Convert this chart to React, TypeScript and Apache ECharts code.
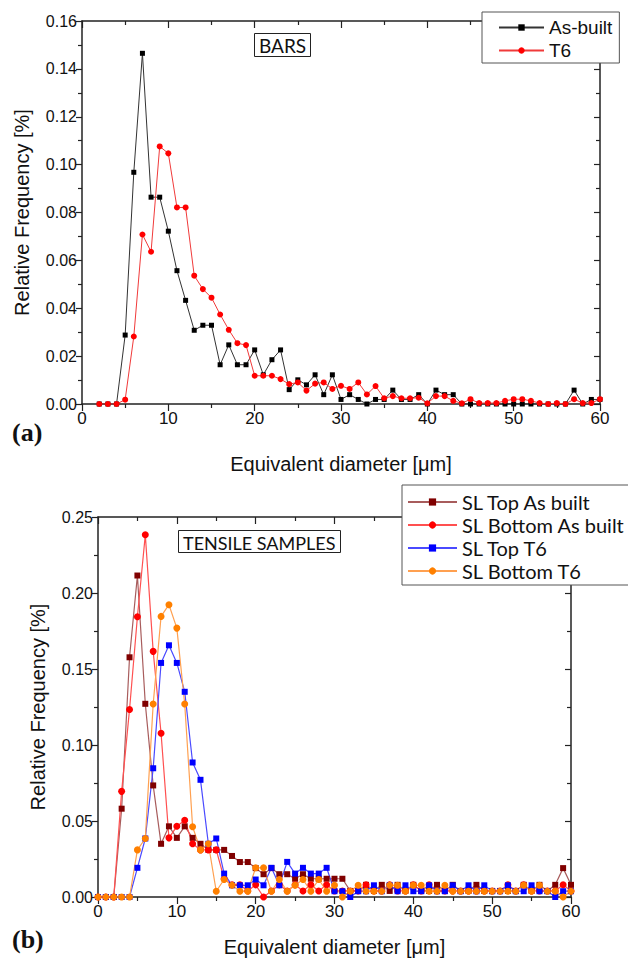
import { useEffect, useRef } from "react";
import * as echarts from "echarts";

// ---- (a) BARS ----
const barsDiameter = [2,3,4,5,6,7,8,9,10,11,12,13,14,15,16,17,18,19,20,21,22,23,24,25,26,27,28,29,30,31,32,33,34,35,36,37,38,39,40,41,42,43,44,45,46,47,48,49,50,51,52,53,54,55,56,57,58,59,60];
const barsAsBuilt = [0,0,0,0.0288,0.0968,0.1465,0.0864,0.0864,0.0722,0.0557,0.0433,0.0308,0.0329,0.0329,0.0164,0.0247,0.0164,0.0164,0.0226,0.0122,0.0185,0.0226,0.006,0.0101,0.008,0.0122,0.0039,0.0122,0.0019,0.0039,0.0019,0,0.0019,0.0019,0.0058,0.0019,0.0019,0.0039,0,0.0058,0.0039,0.0039,0,0,0,0,0,0,0,0,0,0,0,0,0,0.0058,0,0.0019,0.0019];
const barsT6 = [0,0,0,0.0018,0.0282,0.0708,0.0636,0.1076,0.1047,0.0821,0.0821,0.0536,0.048,0.0444,0.0374,0.031,0.0254,0.0246,0.0118,0.0118,0.0118,0.0104,0.0083,0.009,0.0056,0.0085,0.009,0.0063,0.0076,0.0063,0.009,0.004,0.0075,0.0024,0.0033,0.0024,0.0024,0.0026,0.0003,0.0033,0.0033,0.0013,0.0003,0.002,0.0004,0.0004,0.0004,0.0013,0.002,0.002,0.0013,0.0004,0,0.0004,0,0.002,0.0004,0.0004,0.002];

// ---- (b) TENSILE SAMPLES ----
const tensileDiameter = [0,1,2,3,4,5,6,7,8,9,10,11,12,13,14,15,16,17,18,19,20,21,22,23,24,25,26,27,28,29,30,31,32,33,34,35,36,37,38,39,40,41,42,43,44,45,46,47,48,49,50,51,52,53,54,55,56,57,58,59,60];
const slTopAsBuilt = [0,0,0,0.0581,0.1577,0.2115,0.1271,0.0734,0.035,0.0465,0.0389,0.0465,0.0389,0.035,0.031,0.031,0.031,0.027,0.023,0.023,0.019,0.015,0.019,0.015,0.015,0.012,0.015,0.012,0.012,0.012,0.012,0.012,0.004,0.004,0.008,0.004,0.008,0.004,0.008,0.004,0.008,0.004,0.004,0.008,0.004,0.008,0.004,0.004,0.008,0.004,0.004,0.004,0.004,0.004,0.008,0.004,0.008,0.004,0.008,0.019,0.008];
const slBottomAsBuilt = [0,0,0,0.0695,0.1234,0.1844,0.2383,0.1616,0.1077,0.0389,0.0465,0.0505,0.035,0.031,0.031,0.031,0.012,0.008,0.008,0.004,0.008,0,0.004,0.008,0.004,0.008,0.004,0.008,0.004,0.008,0.004,0.004,0.004,0.004,0.008,0.004,0.004,0.008,0.004,0.004,0.008,0.004,0.008,0.004,0.004,0.004,0.004,0.004,0.004,0.004,0.004,0.004,0.008,0.004,0.008,0.004,0.004,0.004,0.004,0.008,0.004];
const slTopT6 = [0,0,0,0,0,0.0192,0.0385,0.0847,0.154,0.1656,0.154,0.135,0.0885,0.0771,0.035,0.0385,0.0154,0.0077,0.0077,0.0077,0.0115,0.0077,0.0192,0.0077,0.0231,0.0154,0.0192,0.0154,0.0154,0.0192,0.0038,0.0038,0,0.0038,0.0038,0.0077,0.0038,0.0077,0.0038,0.0077,0.0038,0.0038,0.0077,0.0038,0.0038,0.0077,0.0038,0.0077,0.0038,0.0077,0.0038,0.0038,0.0077,0.0038,0.0038,0.0077,0.0038,0.0038,0,0.0038,0.0038];
const slBottomT6 = [0,0,0,0,0,0.031,0.0385,0.127,0.1846,0.1923,0.1769,0.127,0.0462,0.031,0.035,0.0038,0.0115,0.0077,0.0038,0.0038,0.0192,0.0192,0.0038,0.0115,0.0038,0.0077,0.0115,0.0038,0.0115,0.0038,0.0077,0,0.0038,0.0077,0.0038,0.0038,0.0038,0.0077,0.0077,0.0038,0.0077,0.0077,0.0038,0.0038,0.0077,0.0038,0.0038,0.0038,0.0038,0.0038,0.0038,0.0038,0.0038,0.0038,0.0077,0.0038,0.0077,0.0038,0.0038,0,0.0038];

const AXIS_COLOR = "#222";
const SANS = "Liberation Sans";
const CAL = "Lato";

const pairs = (xs: number[], ys: number[]) => xs.map((x, i) => [x, ys[i]]);

function xAxes(grid: number, nameGap: number) {
  const common = {
    gridIndex: grid,
    type: "value",
    min: 0,
    max: 60,
    interval: 10,
    splitLine: { show: false },
    axisLine: { show: true, onZero: false, lineStyle: { color: AXIS_COLOR, width: 1.5 } },
    minorTick: { show: true, splitNumber: 2, length: 4, lineStyle: { color: AXIS_COLOR, width: 1.2 } },
    minorSplitLine: { show: false },
  };
  return [
    {
      ...common,
      position: "bottom",
      axisTick: { show: true, inside: false, length: 7, lineStyle: { color: AXIS_COLOR, width: 1.2 } },
      axisLabel: { show: true, fontFamily: SANS, fontSize: 17, color: "#111", margin: 6 },
      name: "Equivalent diameter [\u03bcm]",
      nameLocation: "middle",
      nameGap,
      nameTextStyle: { fontFamily: SANS, fontSize: 20, color: "#111" },
    },
    {
      ...common,
      position: "top",
      axisTick: { show: true, inside: true, length: 7, lineStyle: { color: AXIS_COLOR, width: 1.2 } },
      axisLabel: { show: false },
    },
  ];
}

function yAxes(grid: number, max: number, interval: number) {
  const common = {
    gridIndex: grid,
    type: "value",
    min: 0,
    max,
    interval,
    splitLine: { show: false },
    axisLine: { show: true, onZero: false, lineStyle: { color: AXIS_COLOR, width: 1.5 } },
    minorTick: { show: true, splitNumber: 2, length: 4, lineStyle: { color: AXIS_COLOR, width: 1.2 } },
    minorSplitLine: { show: false },
  };
  return [
    {
      ...common,
      position: "left",
      axisTick: { show: true, inside: false, length: 6, lineStyle: { color: AXIS_COLOR, width: 1.2 } },
      axisLabel: {
        show: true,
        fontFamily: SANS,
        fontSize: 16,
        color: "#111",
        margin: 5,
        formatter: (v: number) => v.toFixed(2),
      },
      name: "Relative Frequency [%]",
      nameLocation: "middle",
      nameRotate: 90,
      nameGap: 50,
      nameTextStyle: { fontFamily: SANS, fontSize: 20, color: "#111" },
    },
    {
      ...common,
      position: "right",
      axisTick: { show: true, inside: true, length: 6, lineStyle: { color: AXIS_COLOR, width: 1.2 } },
      axisLabel: { show: false },
    },
  ];
}

export default function App() {
  const ref = useRef<HTMLDivElement>(null);
  useEffect(() => {
    if (!ref.current) return;
    const chart = echarts.init(ref.current, undefined, { renderer: "svg" });
    const option: any = {
      animation: false,
      backgroundColor: "#fff",
      grid: [
        { left: 82, top: 21, width: 518, height: 383, outerBoundsMode: "none" },
        { left: 98, top: 517, width: 473, height: 380, outerBoundsMode: "none" },
      ],
      xAxis: [...xAxes(0, 50), ...xAxes(1, 40)],
      yAxis: [...yAxes(0, 0.16, 0.02), ...yAxes(1, 0.25, 0.05)],
      title: [
        {
          text: "BARS",
          left: 254,
          top: 33,
          padding: [3, 5, 2, 5],
          borderWidth: 1,
          borderColor: "#222",
          textStyle: { fontFamily: CAL, fontSize: 19, fontWeight: "normal", color: "#111", lineHeight: 19 },
        },
        {
          text: "TENSILE SAMPLES",
          left: 178,
          top: 530,
          padding: [3, 5, 1, 5],
          borderWidth: 1,
          borderColor: "#222",
          textStyle: { fontFamily: CAL, fontSize: 18, fontWeight: "normal", color: "#111", lineHeight: 19 },
        },
        {
          text: "(a)",
          left: 12,
          top: 419,
          padding: 0,
          textStyle: { fontFamily: "Liberation Serif", fontSize: 26, fontWeight: "bold", color: "#111" },
        },
        {
          text: "(b)",
          left: 12,
          top: 926,
          padding: 0,
          textStyle: { fontFamily: "Liberation Serif", fontSize: 26, fontWeight: "bold", color: "#111" },
        },
      ],
      legend: [
        {
          data: ["As-built", "T6"],
          orient: "vertical",
          left: 482,
          top: 12,
          itemWidth: 45,
          itemHeight: 8,
          itemGap: 4,
          padding: [6, 7, 3, 16],
          backgroundColor: "#fff",
          borderColor: "#555",
          borderWidth: 1,
          borderRadius: 0,
          selectedMode: false,
          textStyle: { fontFamily: SANS, fontSize: 19, color: "#111" },
        },
        {
          data: ["SL Top As built", "SL Bottom As built", "SL Top T6", "SL Bottom T6"],
          orient: "vertical",
          left: 402,
          top: 485,
          itemWidth: 49,
          itemHeight: 9,
          itemGap: 3,
          padding: [7, 20, 4, 5],
          backgroundColor: "#fff",
          borderColor: "#555",
          borderWidth: 1,
          borderRadius: 0,
          selectedMode: false,
          textStyle: { fontFamily: CAL, fontSize: 20, color: "#111" },
        },
      ],
      series: [
        {
          type: "line",
          name: "As-built",
          xAxisIndex: 0,
          yAxisIndex: 0,
          data: pairs(barsDiameter, barsAsBuilt),
          symbol: "rect",
          symbolSize: 5,
          lineStyle: { color: "#333", width: 1 },
          itemStyle: { color: "#000" },
        },
        {
          type: "line",
          name: "T6",
          xAxisIndex: 0,
          yAxisIndex: 0,
          data: pairs(barsDiameter, barsT6),
          symbol: "circle",
          symbolSize: 6,
          lineStyle: { color: "#f03a3a", width: 1 },
          itemStyle: { color: "#ff0000" },
        },
        {
          type: "line",
          name: "SL Top As built",
          xAxisIndex: 2,
          yAxisIndex: 2,
          data: pairs(tensileDiameter, slTopAsBuilt),
          symbol: "rect",
          symbolSize: 6,
          lineStyle: { color: "#a85c5c", width: 1.2 },
          itemStyle: { color: "#800000" },
        },
        {
          type: "line",
          name: "SL Bottom As built",
          xAxisIndex: 2,
          yAxisIndex: 2,
          data: pairs(tensileDiameter, slBottomAsBuilt),
          symbol: "circle",
          symbolSize: 7,
          lineStyle: { color: "#ff5050", width: 1.2 },
          itemStyle: { color: "#ff0000" },
        },
        {
          type: "line",
          name: "SL Top T6",
          xAxisIndex: 2,
          yAxisIndex: 2,
          data: pairs(tensileDiameter, slTopT6),
          symbol: "rect",
          symbolSize: 6,
          lineStyle: { color: "#4a4aff", width: 1.2 },
          itemStyle: { color: "#0000ff" },
        },
        {
          type: "line",
          name: "SL Bottom T6",
          xAxisIndex: 2,
          yAxisIndex: 2,
          data: pairs(tensileDiameter, slBottomT6),
          symbol: "circle",
          symbolSize: 7,
          lineStyle: { color: "#ffa050", width: 1.2 },
          itemStyle: { color: "#ff8000" },
        },
      ],
    };
    chart.setOption(option);
    return () => chart.dispose();
  }, []);
  return (
    <div
      ref={ref}
      style={{ position: "absolute", left: 0, top: 0, width: 628, height: 963 }}
    />
  );
}
